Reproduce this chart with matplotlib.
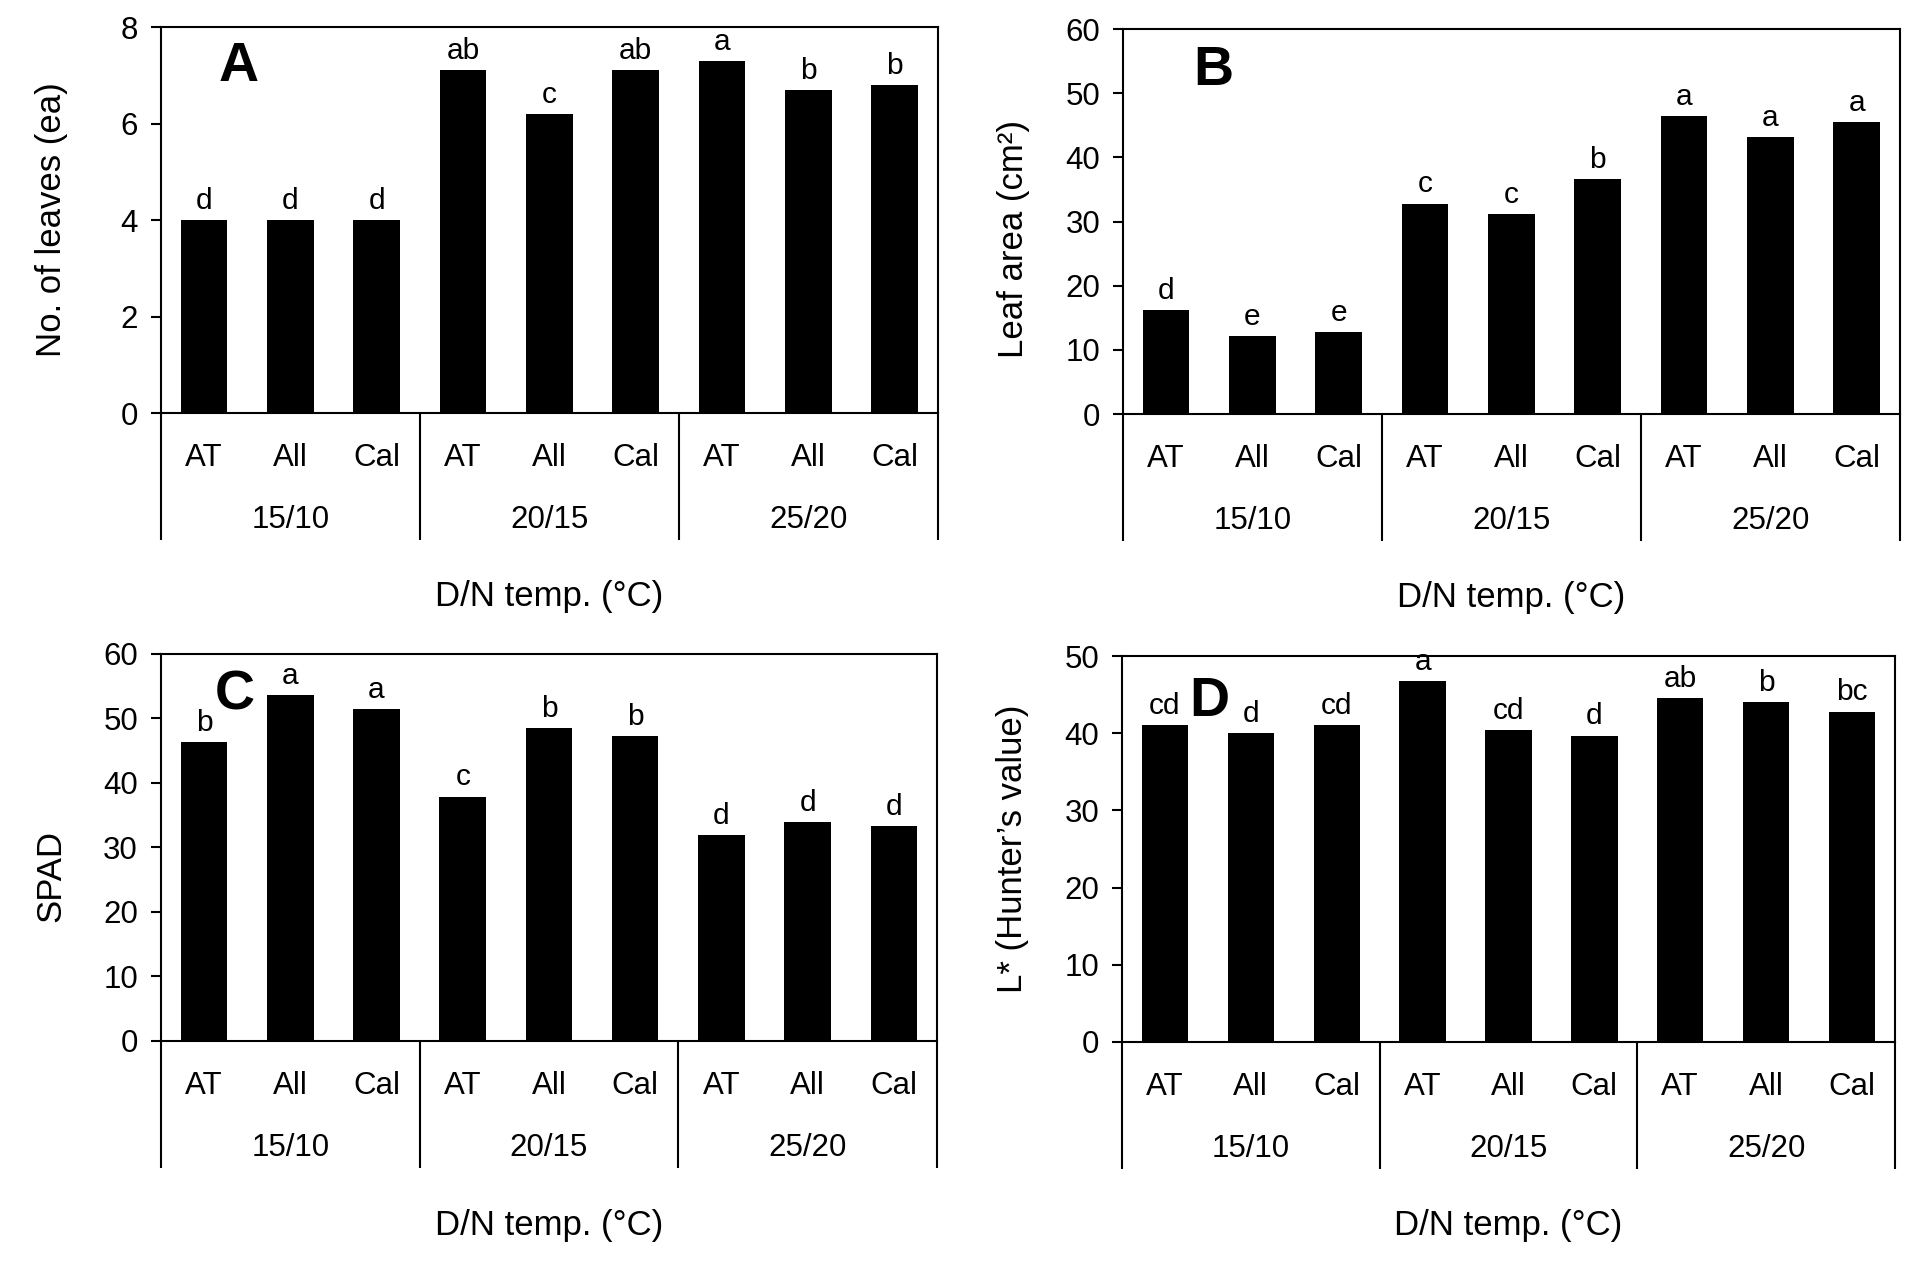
import matplotlib
matplotlib.use("Agg")
import matplotlib.pyplot as plt
import numpy as np

plt.rcParams["font.family"] = ["Liberation Sans", "DejaVu Sans"]

# data
cultivars = ["AT", "All", "Cal"]
temps = ["15/10", "20/15", "25/20"]

leaves = [4.0, 4.0, 4.0, 7.1, 6.2, 7.1, 7.3, 6.7, 6.8]
leaves_sig = ["d", "d", "d", "ab", "c", "ab", "a", "b", "b"]

leaf_area = [16.2, 12.2, 12.8, 32.8, 31.1, 36.6, 46.5, 43.1, 45.5]
leaf_area_sig = ["d", "e", "e", "c", "c", "b", "a", "a", "a"]

spad = [46.3, 53.7, 51.5, 37.9, 48.5, 47.3, 31.9, 33.9, 33.3]
spad_sig = ["b", "a", "a", "c", "b", "b", "d", "d", "d"]

lstar = [41.1, 40.0, 41.1, 46.7, 40.4, 39.7, 44.6, 44.0, 42.8]
lstar_sig = ["cd", "d", "cd", "a", "cd", "d", "ab", "b", "bc"]

panels = [
    # values, letters, ylabel, ymax, ystep, tag, tag pos, axes rect, ylabel y
    (leaves, leaves_sig, "No. of leaves (ea)", 8, 2, "A", (0.40, 7.17),
     [0.0840, 0.6730, 0.4055, 0.3056], 0.5),
    (leaf_area, leaf_area_sig, "Leaf area (cm²)", 60, 10, "B", (0.55, 53.5),
     [0.5861, 0.6722, 0.4055, 0.3048], 0.455),
    (spad, spad_sig, "SPAD", 60, 10, "C", (0.36, 53.6),
     [0.0840, 0.1758, 0.4050, 0.3064], 0.426),
    (lstar, lstar_sig, "L* (Hunter’s value)", 50, 10, "D", (0.52, 44.0),
     [0.5856, 0.1750, 0.4034, 0.3056], 0.5),
]

fig = plt.figure(figsize=(19.16, 12.63), dpi=100)
lw = 1.5

for vals, sig, ylab, ymax, ystep, tag, tagpos, rect, ylab_y in panels:
    ax = fig.add_axes(rect)
    x = np.arange(len(vals))
    ax.bar(x, vals, width=0.54, color="black", edgecolor="none")
    ax.set_xlim(-0.5, len(vals) - 0.5)
    ax.set_ylim(0, ymax)
    ax.set_yticks(np.arange(0, ymax + 0.1, ystep))
    ax.tick_params(axis="y", direction="out", length=7.5, width=lw,
                   pad=9, labelsize=22.5)
    ax.set_xticks([])
    for s in ax.spines.values():
        s.set_linewidth(lw)

    # significance letters
    for xi, v, s in zip(x, vals, sig):
        ax.annotate(s, (xi, v), xytext=(0, 8), textcoords="offset points",
                    ha="center", va="baseline", fontsize=21.5)

    # panel tag
    ax.text(tagpos[0], tagpos[1], tag, ha="center", va="center",
            fontsize=40, fontweight="bold")

    trans = ax.get_xaxis_transform()
    # cultivar labels and temperature groups
    for xi in x:
        ax.text(xi, -0.117, cultivars[xi % 3], transform=trans,
                ha="center", va="center", fontsize=22.5)
    for g, t in enumerate(temps):
        ax.text(3 * g + 1, -0.277, t, transform=trans,
                ha="center", va="center", fontsize=22.5)
    for b in [-0.5, 2.5, 5.5, 8.5]:
        ax.plot([b, b], [0, -0.329], color="black", lw=lw,
                transform=trans, clip_on=False, solid_capstyle="butt")

    ax.text(4, -0.476, "D/N temp. (°C)", transform=trans,
            ha="center", va="center", fontsize=25)
    ax.set_ylabel(ylab, fontsize=25)
    ax.yaxis.set_label_coords(-0.12, ylab_y)

fig.savefig("out.png", dpi=100)
